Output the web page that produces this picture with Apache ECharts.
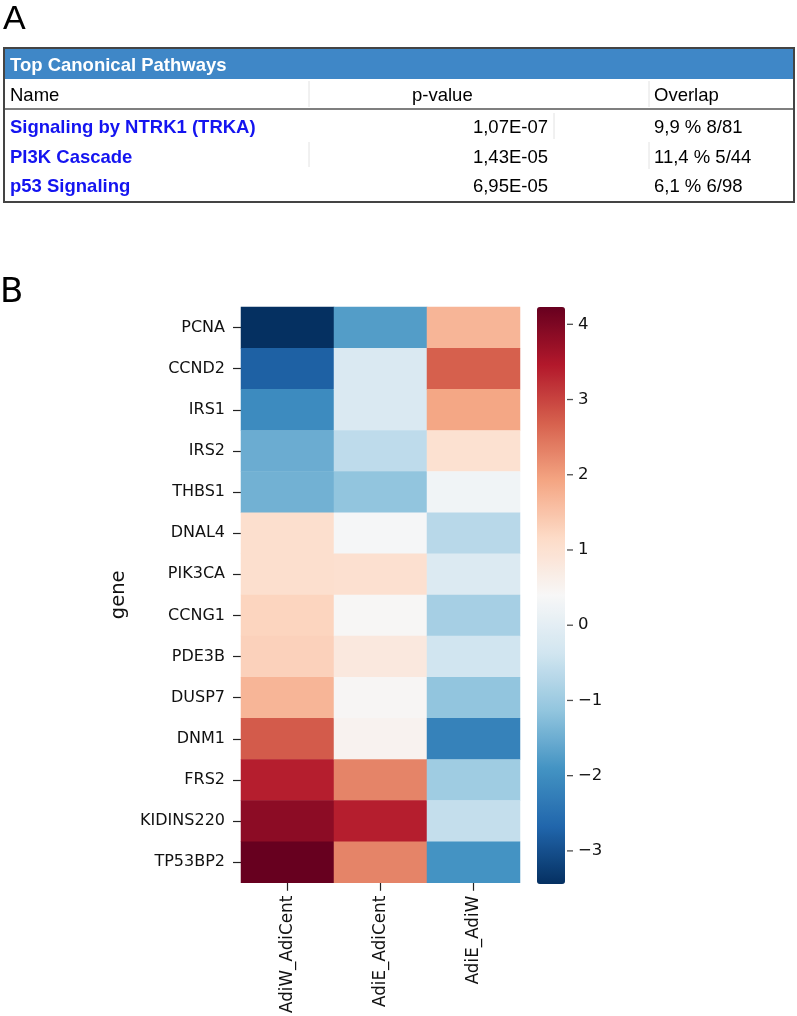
<!DOCTYPE html>
<html>
<head>
<meta charset="utf-8">
<script src="https://cdn.jsdelivr.net/npm/echarts@6/dist/echarts.min.js"></script>
<style>
html,body{margin:0;padding:0;background:#fff;}
#chart{width:797px;height:1016px;}
</style>
</head>
<body>
<div id="chart"></div>
<script>
// ---- Panel A data ----
const tableTitle = 'Top Canonical Pathways';
const tableHeaders = ['Name', 'p-value', 'Overlap'];
const pathways = ['Signaling by NTRK1 (TRKA)', 'PI3K Cascade', 'p53 Signaling'];
const pValues = ['1,07E-07', '1,43E-05', '6,95E-05'];
const overlaps = ['9,9 % 8/81', '11,4 % 5/44', '6,1 % 6/98'];

// ---- Panel B data ----
const genes = ['PCNA','CCND2','IRS1','IRS2','THBS1','DNAL4','PIK3CA','CCNG1','PDE3B','DUSP7','DNM1','FRS2','KIDINS220','TP53BP2'];
const comparisons = ['AdiW_AdiCent','AdiE_AdiCent','AdiE_AdiW'];
const adiW_AdiCent = [-3.44,-2.75,-2.05,-1.52,-1.45,1.05,1.05,1.25,1.30,1.70,2.75,3.40,3.85,4.23];
const adiE_AdiCent = [-1.75,-0.20,-0.20,-0.60,-1.14,0.36,1.02,0.42,0.80,0.45,0.52,2.30,3.40,2.30];
const adiE_AdiW    = [1.70,2.70,1.90,1.00,0.25,-0.68,-0.15,-0.90,-0.37,-1.14,-2.20,-0.98,-0.53,-1.90];
const colorMin = -3.44;
const colorMax = 4.23;
const colorTicks = [-3,-2,-1,0,1,2,3,4];
const rdbuR = ['#053061','#2166ac','#4393c3','#92c5de','#d1e5f0','#f7f7f7','#fddbc7','#f4a582','#d6604d','#b2182b','#67001f'];

const columns = [adiW_AdiCent, adiE_AdiCent, adiE_AdiW];
const heatData = [];
columns.forEach((col, xi) => col.forEach((v, yi) => heatData.push([xi, yi, v])));

// ---- layout ----
const HM = {left: 241, top: 307, width: 279, height: 577};
const CB = {left: 537, top: 307, width: 28, height: 577};
const T = {x0: 4, x1: 794, top: 48, headBottom: 79, nameBottom: 109, bottom: 202};
const rowY = [127.5, 158, 187];
const tableFont = '"Liberation Sans", Arial, sans-serif';
const plotFont = '"DejaVu Sans", sans-serif';

const graphics = [];
// Panel letters
graphics.push({type:'text', style:{text:'A', x:3, y:20, font:'34px ' + tableFont, fill:'#000', textVerticalAlign:'middle'}});
graphics.push({type:'text', style:{text:'B', x:0, y:293, font:'34px ' + plotFont, fill:'#000', textVerticalAlign:'middle'}});
// Table header background
graphics.push({type:'rect', shape:{x:T.x0, y:T.top, width:T.x1-T.x0, height:T.headBottom-T.top}, style:{fill:'#3f87c7'}});
graphics.push({type:'text', style:{text:tableTitle, x:10, y:66, font:'bold 18.5px ' + tableFont, fill:'#fff', textVerticalAlign:'middle'}});
// column header row
const nameY = 96;
graphics.push({type:'text', style:{text:tableHeaders[0], x:10, y:nameY, font:'18.5px ' + tableFont, fill:'#000', textVerticalAlign:'middle'}});
graphics.push({type:'text', style:{text:tableHeaders[1], x:412, y:nameY, font:'18.5px ' + tableFont, fill:'#000', textVerticalAlign:'middle'}});
graphics.push({type:'text', style:{text:tableHeaders[2], x:654, y:nameY, font:'18.5px ' + tableFont, fill:'#000', textVerticalAlign:'middle'}});
// faint column separators
[[309, T.headBottom+2, T.nameBottom-2],[649, T.headBottom+2, T.nameBottom-2],[554, 113, 139],[309, 142, 167],[649, 142, 169]].forEach(s => {
  graphics.push({type:'line', shape:{x1:s[0], y1:s[1], x2:s[0], y2:s[2]}, style:{stroke:'#e2e2e2', lineWidth:1}});
});
// line under column header row
graphics.push({type:'line', shape:{x1:T.x0, y1:T.nameBottom, x2:T.x1, y2:T.nameBottom}, style:{stroke:'#555', lineWidth:1.5}});
// data rows
pathways.forEach((p, i) => {
  graphics.push({type:'text', style:{text:p, x:10, y:rowY[i], font:'bold 18.5px ' + tableFont, fill:'#1414f0', textVerticalAlign:'middle'}});
  graphics.push({type:'text', style:{text:pValues[i], x:548, y:rowY[i], font:'18.5px ' + tableFont, fill:'#000', textAlign:'right', textVerticalAlign:'middle'}});
  graphics.push({type:'text', style:{text:overlaps[i], x:654, y:rowY[i], font:'18.5px ' + tableFont, fill:'#000', textVerticalAlign:'middle'}});
});
// outer border
graphics.push({type:'rect', shape:{x:T.x0, y:T.top, width:T.x1-T.x0, height:T.bottom-T.top}, style:{fill:'none', stroke:'#444', lineWidth:2}});

const chart = echarts.init(document.getElementById('chart'), null, {renderer:'canvas'});
chart.setOption({
  animation: false,
  backgroundColor: '#fff',
  textStyle: {fontFamily: plotFont},
  graphic: graphics,
  grid: [
    {left: HM.left, top: HM.top, width: HM.width, height: HM.height},
    {left: CB.left, top: CB.top, width: CB.width, height: CB.height}
  ],
  xAxis: [
    {
      type: 'category', gridIndex: 0, data: comparisons, position: 'bottom',
      axisLine: {show: false},
      axisTick: {show: true, length: 8, alignWithLabel: true, lineStyle: {color: '#222', width: 1.2}},
      axisLabel: {rotate: 90, margin: 13, fontSize: 16.8, color: '#111', fontFamily: plotFont},
      splitLine: {show: false}
    },
    {type: 'value', gridIndex: 1, show: false, min: 0, max: 1}
  ],
  yAxis: [
    {
      type: 'category', gridIndex: 0, data: genes, inverse: true,
      name: 'gene', nameLocation: 'middle', nameGap: 112, nameRotate: 90,
      nameTextStyle: {fontSize: 19.5, color: '#111', fontFamily: plotFont},
      axisLine: {show: false},
      axisTick: {show: true, length: 8, alignWithLabel: true, lineStyle: {color: '#222', width: 1.2}},
      axisLabel: {margin: 16, fontSize: 16, color: '#111', fontFamily: plotFont},
      splitLine: {show: false}
    },
    {
      type: 'value', gridIndex: 1, position: 'right', min: colorMin, max: colorMax,
      axisLine: {show: false},
      axisTick: {show: false},
      axisLabel: {show: true, customValues: colorTicks, margin: 13, fontSize: 16.5, color: '#111', fontFamily: plotFont,
        formatter: v => String(v).replace('-', '\u2212')},
      splitLine: {show: false}
    }
  ],
  visualMap: {
    type: 'continuous', seriesIndex: 0, min: colorMin, max: colorMax,
    orient: 'vertical', left: CB.left, top: CB.top, itemWidth: CB.width, itemHeight: CB.height,
    padding: 0, calculable: false, realtime: false, hoverLink: false,
    text: null, showLabel: false,
    inRange: {color: rdbuR}
  },
  series: [
    {
      type: 'heatmap', xAxisIndex: 0, yAxisIndex: 0, data: heatData,
      itemStyle: {borderWidth: 0},
      emphasis: {disabled: true}
    },
    {
      // colorbar tick marks, placed on the colorbar's value axis
      type: 'scatter', xAxisIndex: 1, yAxisIndex: 1, clip: false, silent: true,
      data: colorTicks.map(v => [1, v]),
      symbol: 'rect', symbolSize: [6, 1.3], symbolOffset: [5, 0],
      itemStyle: {color: '#222'},
      emphasis: {disabled: true}
    }
  ]
});
</script>
</body>
</html>
